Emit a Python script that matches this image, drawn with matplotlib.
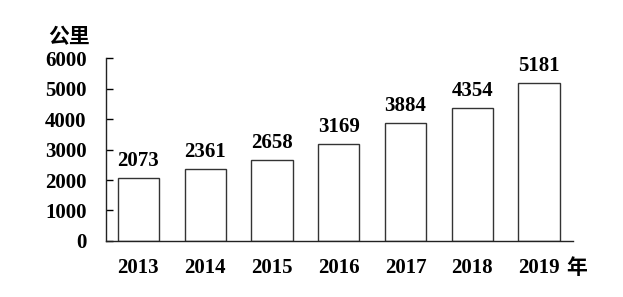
import matplotlib
matplotlib.use("Agg")
import matplotlib.pyplot as plt

years = ["2013", "2014", "2015", "2016", "2017", "2018", "2019"]
km = [2073, 2361, 2658, 3169, 3884, 4354, 5181]
yticks = [0, 1000, 2000, 3000, 4000, 5000, 6000]

num_font = ["Liberation Serif", "DejaVu Serif"]
cjk_font = ["Noto Sans CJK SC", "DejaVu Sans"]

fig = plt.figure(figsize=(6.23, 2.97), dpi=100)
ax = fig.add_axes([0.170, 0.1886, 0.750, 0.616])

x = list(range(len(years)))
bars = ax.bar(x, km, width=0.62, color="white", edgecolor="#333333", linewidth=1.0)

for xi, v in zip(x, km):
    ax.annotate(str(v), (xi, v), xytext=(0, 5), textcoords="offset points",
                ha="center", va="bottom", fontsize=15, fontweight="bold",
                family=num_font)

ax.set_xlim(-0.487, 6.51)
ax.set_ylim(0, 6000)
ax.set_yticks(yticks)
ax.set_xticks(x)
ax.set_xticklabels(years)
for lab in ax.get_xticklabels() + ax.get_yticklabels():
    lab.set_family(num_font)
    lab.set_fontweight("bold")
    lab.set_fontsize(15)

ax.tick_params(axis="y", direction="in", length=5, width=1, pad=14)
ax.tick_params(axis="x", length=0, pad=12)

for s in ["top", "right"]:
    ax.spines[s].set_visible(False)
for s in ["left", "bottom"]:
    ax.spines[s].set_linewidth(1.0)
    ax.spines[s].set_color("#222222")

fig.text(69 / 623, 1 - 37 / 297, "公里", ha="center", va="center",
         fontsize=15, fontweight="bold", family=cjk_font)
fig.text(566 / 623, 1 - 268 / 297, "年", ha="left", va="center",
         fontsize=15, fontweight="bold", family=cjk_font)

fig.savefig("out.png", dpi=100)
